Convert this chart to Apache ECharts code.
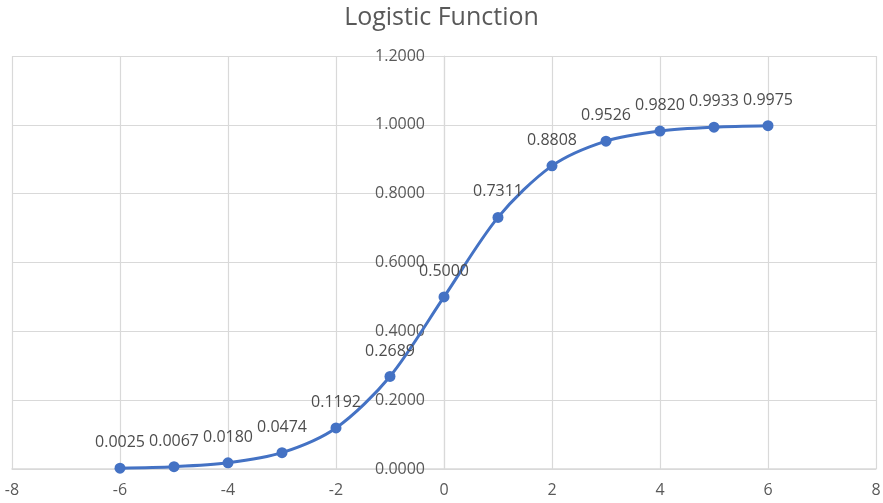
<!DOCTYPE html>
<html>
<head>
<meta charset="utf-8">
<script src="https://cdn.jsdelivr.net/npm/echarts@6/dist/echarts.min.js"></script>
<style>
  html, body { margin: 0; padding: 0; background: #fff; }
  #chart { width: 883px; height: 503px; }
</style>
</head>
<body>
<div id="chart"></div>
<script>
// Logistic function sampled at integer inputs
const xValues = [-6, -5, -4, -3, -2, -1, 0, 1, 2, 3, 4, 5, 6];
const yValues = [0.0025, 0.0067, 0.0180, 0.0474, 0.1192, 0.2689, 0.5000, 0.7311, 0.8808, 0.9526, 0.9820, 0.9933, 0.9975];
const titleText = 'Logistic Function';

const textColor = '#595959';
const gridColor = '#d9d9d9';
const fontFamily = '"Open Sans", "Noto Sans", sans-serif';

const gridLeft = 12, gridRight = 7;
const plotWidth = 883 - gridLeft - gridRight;

const chart = echarts.init(document.getElementById('chart'), null, { renderer: 'canvas' });

chart.setOption({
  animation: false,
  backgroundColor: '#ffffff',
  title: {
    text: titleText,
    left: 'center',
    top: 0,
    textStyle: { color: textColor, fontSize: 25, fontWeight: 'normal', fontFamily: fontFamily }
  },
  grid: { left: gridLeft, right: gridRight, top: 56, bottom: 34, containLabel: false, outerBoundsMode: 'none' },
  xAxis: {
    type: 'value',
    min: -8,
    max: 8,
    interval: 2,
    axisLine: { onZero: false, lineStyle: { color: gridColor, width: 1.5 } },
    axisTick: { show: false },
    axisLabel: { color: textColor, fontSize: 16, fontFamily: fontFamily, margin: 13 },
    splitLine: { show: true, lineStyle: { color: gridColor, width: 1.2 } }
  },
  yAxis: {
    type: 'value',
    min: 0,
    max: 1.2,
    interval: 0.2,
    position: 'left',
    // place the vertical axis at x = 0 (middle of the plot)
    offset: -plotWidth / 2,
    axisLine: { show: true, onZero: false, lineStyle: { color: gridColor, width: 1.2 } },
    axisTick: { show: false },
    axisLabel: {
      color: textColor,
      fontSize: 16,
      fontFamily: fontFamily,
      margin: 19,
      formatter: v => v.toFixed(4)
    },
    splitLine: { show: true, lineStyle: { color: gridColor, width: 1.2 } }
  },
  series: [{
    type: 'line',
    data: xValues.map((x, i) => [x, yValues[i]]),
    smooth: 0.3,
    symbol: 'circle',
    symbolSize: 11,
    lineStyle: { color: '#4472C4', width: 3 },
    itemStyle: { color: '#4472C4' },
    label: {
      show: true,
      position: 'top',
      distance: 12,
      color: '#4d4d4d',
      fontSize: 16,
      fontFamily: fontFamily,
      formatter: p => p.value[1].toFixed(4)
    }
  }]
});
</script>
</body>
</html>
